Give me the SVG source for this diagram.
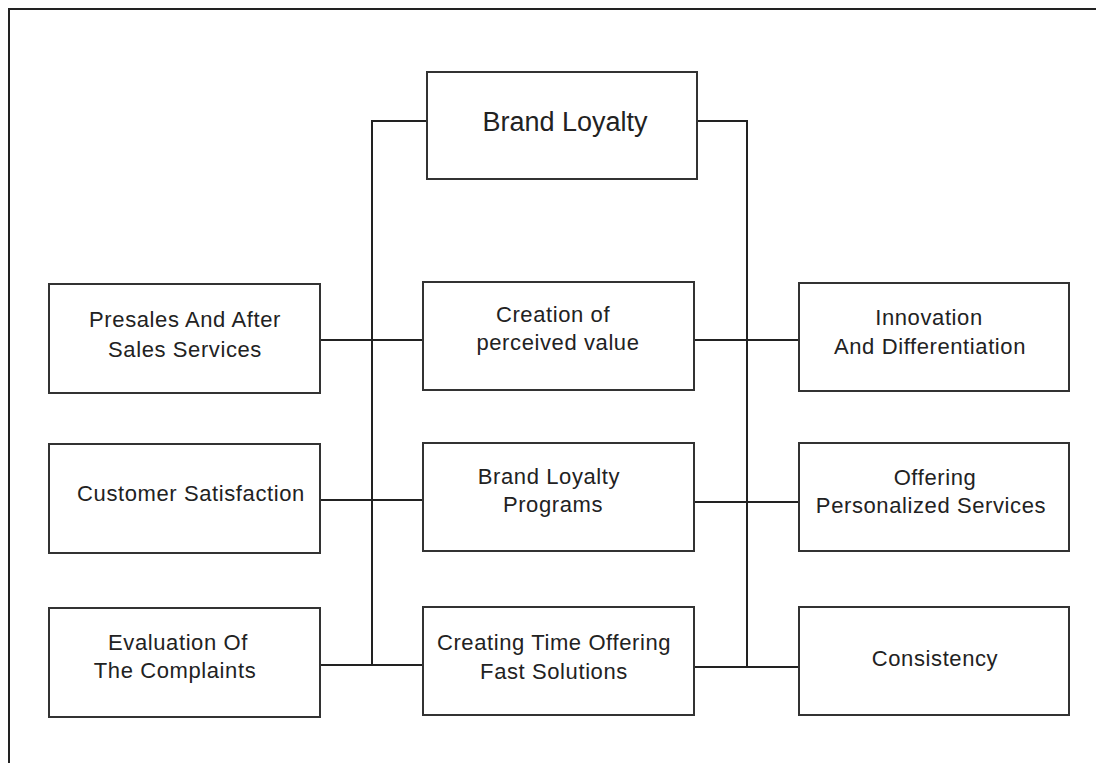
<svg xmlns="http://www.w3.org/2000/svg" width="1096" height="763" viewBox="0 0 1096 763">
<style>
.box{fill:#fff;stroke:#333;stroke-width:2}
.ln{fill:none;stroke:#222;stroke-width:2}
.t{font-family:"Liberation Sans",Arial,sans-serif;font-size:22px;fill:#222;text-anchor:middle;letter-spacing:0.6px}
.h{font-family:"Liberation Sans",Arial,sans-serif;font-size:27px;fill:#222;text-anchor:middle}
</style>
<rect width="1096" height="763" fill="#fff"/>
<path class="ln" d="M9,763 V9 H1096" stroke-width="2.5"/>
<g id="connectors">
<path class="ln" d="M427,121 H372 V665"/>
<path class="ln" d="M697,121 H747 V667"/>
<path class="ln" d="M320,340 H423"/>
<path class="ln" d="M694,340 H799"/>
<path class="ln" d="M320,500 H423"/>
<path class="ln" d="M694,502 H799"/>
<path class="ln" d="M320,665 H423"/>
<path class="ln" d="M694,667 H799"/>
</g>
<g id="brand-loyalty">
<rect class="box" x="427" y="72" width="270" height="107"/>
<text class="h" x="565" y="131">Brand Loyalty</text>
</g>
<g id="presales">
<rect class="box" x="49" y="284" width="271" height="109"/>
<text class="t" x="185" y="327">Presales And After</text>
<text class="t" x="185" y="357">Sales Services</text>
</g>
<g id="perceived-value">
<rect class="box" x="423" y="282" width="271" height="108"/>
<text class="t" x="553" y="322">Creation of</text>
<text class="t" x="558" y="350">perceived value</text>
</g>
<g id="innovation">
<rect class="box" x="799" y="283" width="270" height="108"/>
<text class="t" x="929" y="325">Innovation</text>
<text class="t" x="930" y="354">And Differentiation</text>
</g>
<g id="customer-satisfaction">
<rect class="box" x="49" y="444" width="271" height="109"/>
<text class="t" x="191" y="501">Customer Satisfaction</text>
</g>
<g id="loyalty-programs">
<rect class="box" x="423" y="443" width="271" height="108"/>
<text class="t" x="549" y="484">Brand Loyalty</text>
<text class="t" x="553" y="512">Programs</text>
</g>
<g id="personalized-services">
<rect class="box" x="799" y="443" width="270" height="108"/>
<text class="t" x="935" y="485">Offering</text>
<text class="t" x="931" y="513">Personalized Services</text>
</g>
<g id="complaints">
<rect class="box" x="49" y="608" width="271" height="109"/>
<text class="t" x="178" y="650">Evaluation Of</text>
<text class="t" x="175" y="678">The Complaints</text>
</g>
<g id="fast-solutions">
<rect class="box" x="423" y="607" width="271" height="108"/>
<text class="t" x="554" y="650">Creating Time Offering</text>
<text class="t" x="554" y="679">Fast Solutions</text>
</g>
<g id="consistency">
<rect class="box" x="799" y="607" width="270" height="108"/>
<text class="t" x="935" y="666">Consistency</text>
</g>
</svg>
